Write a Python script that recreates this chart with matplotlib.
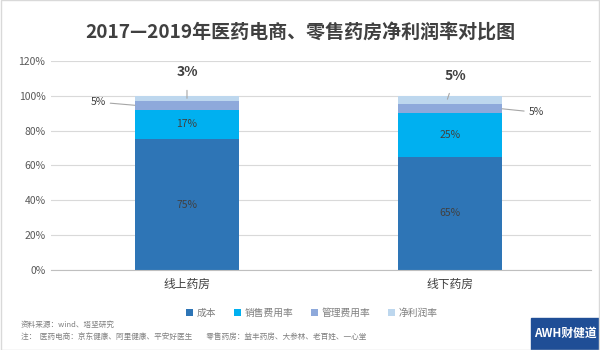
import matplotlib
matplotlib.use("Agg")
import matplotlib.pyplot as plt
from matplotlib.patches import Rectangle
import numpy as np

plt.rcParams['font.family'] = ['Noto Sans CJK SC', 'DejaVu Sans']

categories = ['线上药房', '线下药房']
series_names = ['成本', '销售费用率', '管理费用率', '净利润率']
cost = [75, 65]
sales = [17, 25]
admin = [5, 5]
profit = [3, 5]
yticks = [0, 20, 40, 60, 80, 100, 120]
colors = ['#2E75B6', '#00B0F0', '#8EA9DB', '#BDD7EE']

fig = plt.figure(figsize=(6, 3.5), dpi=100)
ax = fig.add_axes([0.085, 0.229, 0.9, 0.597])

x = np.arange(len(categories))
w = 0.395
series = [cost, sales, admin, profit]
bottom = np.zeros(len(categories))
bars = []
for vals, c, name in zip(series, colors, series_names):
    b = ax.bar(x, vals, w, bottom=bottom, color=c, label=name, zorder=3)
    bars.append((b, np.array(vals), bottom.copy()))
    bottom = bottom + np.array(vals)

# inner labels for cost and sales
for idx in (0, 1):
    b, vals, bot = bars[idx]
    for i in range(len(categories)):
        ax.text(x[i], bot[i] + vals[i] / 2, f'{vals[i]}%', ha='center', va='center',
                fontsize=7.5, color='#404040', zorder=4)

# admin labels (outside with leader lines)
tot = bottom
adm_mid = np.array(cost) + np.array(sales) + np.array(admin) / 2
ax.annotate(f'{admin[0]}%', xy=(x[0] - w / 2, adm_mid[0]), xytext=(x[0] - w / 2 - 0.11, adm_mid[0] + 1.8),
            ha='right', va='center', fontsize=7.5, color='#404040',
            arrowprops=dict(arrowstyle='-', color='#A6A6A6', lw=0.8, shrinkA=1, shrinkB=0))
ax.annotate(f'{admin[1]}%', xy=(x[1] + w / 2, adm_mid[1]), xytext=(x[1] + w / 2 + 0.1, adm_mid[1] - 2.0),
            ha='left', va='center', fontsize=7.5, color='#404040',
            arrowprops=dict(arrowstyle='-', color='#A6A6A6', lw=0.8, shrinkA=1, shrinkB=0))
# profit labels (bold above)
ax.annotate(f'{profit[0]}%', xy=(x[0], tot[0] - 1.5), xytext=(x[0], tot[0] + 13.5),
            ha='center', va='center', fontsize=10, fontweight='bold', color='#404040',
            arrowprops=dict(arrowstyle='-', color='#A6A6A6', lw=0.8, shrinkA=6, shrinkB=0))
ax.annotate(f'{profit[1]}%', xy=(x[1] - 0.01, tot[1] - 2.0), xytext=(x[1] + 0.02, tot[1] + 11.5),
            ha='center', va='center', fontsize=10, fontweight='bold', color='#404040',
            arrowprops=dict(arrowstyle='-', color='#A6A6A6', lw=0.8, shrinkA=6, shrinkB=0))

ax.set_ylim(0, 120)
ax.set_xlim(-0.517, 1.536)
ax.set_yticks(yticks)
ax.set_yticklabels([f'{t}%' for t in yticks])
ax.set_xticks(x)
ax.set_xticklabels(categories)
ax.tick_params(axis='y', length=0, labelsize=7.5, labelcolor='#595959', pad=4)
ax.tick_params(axis='x', length=0, labelsize=8.5, labelcolor='#404040', pad=6)
ax.grid(axis='y', color='#D9D9D9', lw=0.8, zorder=0)
for s in ['top', 'right', 'left']:
    ax.spines[s].set_visible(False)
ax.spines['bottom'].set_color('#BFBFBF')
ax.spines['bottom'].set_zorder(3)

fig.text(0.5, 0.905, '2017—2019年医药电商、零售药房净利润率对比图', ha='center', va='center',
         fontsize=13.7, fontweight='bold', color='#404040')

leg = fig.legend(loc='center', bbox_to_anchor=(0.52, 0.105), ncol=4, frameon=False,
                 fontsize=7, handlelength=0.7, handleheight=0.7, handletextpad=0.4,
                 columnspacing=1.8, labelcolor='#7F7F7F')

fig.text(0.035, 0.071, '资料来源：wind、塔坚研究', fontsize=5.5, color='#7F7F7F', va='center')
fig.text(0.035, 0.034, '注：  医药电商：京东健康、阿里健康、平安好医生        零售药房：益丰药房、大参林、老百姓、一心堂',
         fontsize=5.5, color='#7F7F7F', va='center')

# logo box
fig.patches.append(Rectangle((0.885, 0.0), 0.115, 0.092, transform=fig.transFigure,
                             color='#1F4E96', zorder=5))
fig.text(0.943, 0.048, 'AWH财健道', ha='center', va='center', fontsize=8.5, fontweight='bold',
         color='white', style='italic', zorder=6)

# thin frame
fig.patches.append(Rectangle((0.001, 0.001), 0.998, 0.998, transform=fig.transFigure,
                             fill=False, edgecolor='#D9D9D9', lw=1, zorder=6))

fig.savefig('out.png', dpi=100)
